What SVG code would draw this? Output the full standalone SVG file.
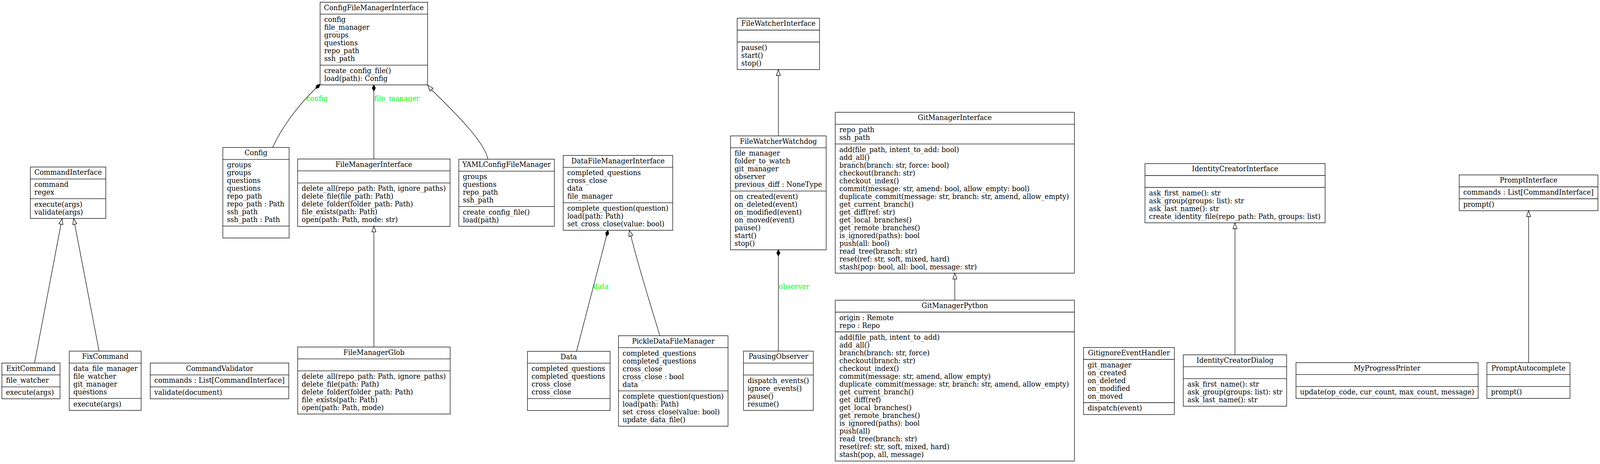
<svg xmlns="http://www.w3.org/2000/svg" width="4325" height="1187" viewBox="0 0 4325 1187">
<style>
.n rect{fill:#fff;stroke:#000;stroke-width:1.33}
.n line{stroke:#000;stroke-width:1.33}
text{font-family:"DejaVu Serif","Liberation Serif",serif;font-size:18.67px;fill:#000}
.h{text-anchor:middle}
.lbl{fill:#00ff00}
.e path,.e line{fill:none;stroke:#000;stroke-width:1.33}
.tri{fill:#fff;stroke:#000;stroke-width:1.33}
.dia{fill:#000;stroke:#000;stroke-width:1.33}
</style>
<rect x="0" y="0" width="4325" height="1187" fill="#fff"/>
<g id="diagram" transform="scale(0.94705 1)">

<g id="ConfigFileManagerInterface" class="n">
<rect x="865.3" y="5.7" width="290.5" height="211.5"/>
<line x1="865.3" y1="36.2" x2="1155.8" y2="36.2"/><line x1="865.3" y1="166.7" x2="1155.8" y2="166.7"/>
<text class="h" x="1010.5" y="25.7">ConfigFileManagerInterface</text>
<text x="876.3" y="56.5">config<tspan x="876.3" dy="20">file_manager</tspan><tspan x="876.3" dy="20">groups</tspan><tspan x="876.3" dy="20">questions</tspan><tspan x="876.3" dy="20">repo_path</tspan><tspan x="876.3" dy="20">ssh_path</tspan></text>
<text x="876.3" y="187">create_config_file()<tspan x="876.3" dy="20">load(path): Config</tspan></text>
</g>

<g id="Config" class="n">
<rect x="602.4" y="377.3" width="179.1" height="231.5"/>
<line x1="602.4" y1="407.8" x2="781.5" y2="407.8"/><line x1="602.4" y1="578.3" x2="781.5" y2="578.3"/>
<text class="h" x="692" y="397.3">Config</text>
<text x="613.4" y="428.1">groups<tspan x="613.4" dy="20">groups</tspan><tspan x="613.4" dy="20">questions</tspan><tspan x="613.4" dy="20">questions</tspan><tspan x="613.4" dy="20">repo_path</tspan><tspan x="613.4" dy="20">repo_path : Path</tspan><tspan x="613.4" dy="20">ssh_path</tspan><tspan x="613.4" dy="20">ssh_path : Path</tspan></text>
</g>

<g id="FileManagerInterface" class="n">
<rect x="804.5" y="406.7" width="412.1" height="172.5"/>
<line x1="804.5" y1="437.2" x2="1216.6" y2="437.2"/><line x1="804.5" y1="468.2" x2="1216.6" y2="468.2"/>
<text class="h" x="1010.5" y="426.7">FileManagerInterface</text>
<text x="815.5" y="488.5">delete_all(repo_path: Path, ignore_paths)<tspan x="815.5" dy="20">delete_file(file_path: Path)</tspan><tspan x="815.5" dy="20">delete_folder(folder_path: Path)</tspan><tspan x="815.5" dy="20">file_exists(path: Path)</tspan><tspan x="815.5" dy="20">open(path: Path, mode: str)</tspan></text>
</g>

<g id="YAMLConfigFileManager" class="n">
<rect x="1240.2" y="407.3" width="258.3" height="171.5"/>
<line x1="1240.2" y1="437.8" x2="1498.5" y2="437.8"/><line x1="1240.2" y1="528.3" x2="1498.5" y2="528.3"/>
<text class="h" x="1369.3" y="427.3">YAMLConfigFileManager</text>
<text x="1251.2" y="458.1">groups<tspan x="1251.2" dy="20">questions</tspan><tspan x="1251.2" dy="20">repo_path</tspan><tspan x="1251.2" dy="20">ssh_path</tspan></text>
<text x="1251.2" y="548.6">create_config_file()<tspan x="1251.2" dy="20">load(path)</tspan></text>
</g>

<g id="CommandInterface" class="n">
<rect x="82" y="427.3" width="204" height="131.5"/>
<line x1="82" y1="457.8" x2="286" y2="457.8"/><line x1="82" y1="508.3" x2="286" y2="508.3"/>
<text class="h" x="184" y="447.3">CommandInterface</text>
<text x="93" y="478.1">command<tspan x="93" dy="20">regex</tspan></text>
<text x="93" y="528.6">execute(args)<tspan x="93" dy="20">validate(args)</tspan></text>
</g>

<g id="ExitCommand" class="n">
<rect x="5.1" y="928.7" width="157.1" height="91.5"/>
<line x1="5.1" y1="959.2" x2="162.2" y2="959.2"/><line x1="5.1" y1="989.7" x2="162.2" y2="989.7"/>
<text class="h" x="83.6" y="948.7">ExitCommand</text>
<text x="16.1" y="979.5">file_watcher</text>
<text x="16.1" y="1010">execute(args)</text>
</g>

<g id="FixCommand" class="n">
<rect x="187.2" y="898.3" width="194.4" height="151.5"/>
<line x1="187.2" y1="928.8" x2="381.6" y2="928.8"/><line x1="187.2" y1="1019.3" x2="381.6" y2="1019.3"/>
<text class="h" x="284.4" y="918.3">FixCommand</text>
<text x="198.2" y="949.1">data_file_manager<tspan x="198.2" dy="20">file_watcher</tspan><tspan x="198.2" dy="20">git_manager</tspan><tspan x="198.2" dy="20">questions</tspan></text>
<text x="198.2" y="1039.6">execute(args)</text>
</g>

<g id="CommandValidator" class="n">
<rect x="406.1" y="928.7" width="374.5" height="91.5"/>
<line x1="406.1" y1="959.2" x2="780.6" y2="959.2"/><line x1="406.1" y1="989.7" x2="780.6" y2="989.7"/>
<text class="h" x="593.3" y="948.7">CommandValidator</text>
<text x="417.1" y="979.5">commands : List[CommandInterface]</text>
<text x="417.1" y="1010">validate(document)</text>
</g>

<g id="FileManagerGlob" class="n">
<rect x="804.7" y="887.7" width="412.2" height="171.5"/>
<line x1="804.7" y1="918.2" x2="1216.9" y2="918.2"/><line x1="804.7" y1="948.7" x2="1216.9" y2="948.7"/>
<text class="h" x="1010.8" y="907.7">FileManagerGlob</text>
<text x="815.7" y="969">delete_all(repo_path: Path, ignore_paths)<tspan x="815.7" dy="20">delete_file(path: Path)</tspan><tspan x="815.7" dy="20">delete_folder(folder_path: Path)</tspan><tspan x="815.7" dy="20">file_exists(path: Path)</tspan><tspan x="815.7" dy="20">open(path: Path, mode)</tspan></text>
</g>

<g id="DataFileManagerInterface" class="n">
<rect x="1522.4" y="397.6" width="296" height="191.5"/>
<line x1="1522.4" y1="428.1" x2="1818.4" y2="428.1"/><line x1="1522.4" y1="518.6" x2="1818.4" y2="518.6"/>
<text class="h" x="1670.4" y="417.6">DataFileManagerInterface</text>
<text x="1533.4" y="448.4">completed_questions<tspan x="1533.4" dy="20">cross_close</tspan><tspan x="1533.4" dy="20">data</tspan><tspan x="1533.4" dy="20">file_manager</tspan></text>
<text x="1533.4" y="538.9">complete_question(question)<tspan x="1533.4" dy="20">load(path: Path)</tspan><tspan x="1533.4" dy="20">set_cross_close(value: bool)</tspan></text>
</g>

<g id="Data" class="n">
<rect x="1425.8" y="898.7" width="223.3" height="151.5"/>
<line x1="1425.8" y1="929.2" x2="1649.1" y2="929.2"/><line x1="1425.8" y1="1019.7" x2="1649.1" y2="1019.7"/>
<text class="h" x="1537.4" y="918.7">Data</text>
<text x="1436.8" y="949.5">completed_questions<tspan x="1436.8" dy="20">completed_questions</tspan><tspan x="1436.8" dy="20">cross_close</tspan><tspan x="1436.8" dy="20">cross_close</tspan></text>
</g>

<g id="PickleDataFileManager" class="n">
<rect x="1671.9" y="858.8" width="296" height="231.5"/>
<line x1="1671.9" y1="889.3" x2="1967.9" y2="889.3"/><line x1="1671.9" y1="999.8" x2="1967.9" y2="999.8"/>
<text class="h" x="1819.9" y="878.8">PickleDataFileManager</text>
<text x="1682.9" y="909.6">completed_questions<tspan x="1682.9" dy="20">completed_questions</tspan><tspan x="1682.9" dy="20">cross_close</tspan><tspan x="1682.9" dy="20">cross_close : bool</tspan><tspan x="1682.9" dy="20">data</tspan></text>
<text x="1682.9" y="1020.1">complete_question(question)<tspan x="1682.9" dy="20">load(path: Path)</tspan><tspan x="1682.9" dy="20">set_cross_close(value: bool)</tspan><tspan x="1682.9" dy="20">update_data_file()</tspan></text>
</g>

<g id="FileWatcherInterface" class="n">
<rect x="1992.7" y="46.5" width="222.6" height="131.5"/>
<line x1="1992.7" y1="77" x2="2215.3" y2="77"/><line x1="1992.7" y1="107.5" x2="2215.3" y2="107.5"/>
<text class="h" x="2104" y="66.5">FileWatcherInterface</text>
<text x="2003.7" y="127.8">pause()<tspan x="2003.7" dy="20">start()</tspan><tspan x="2003.7" dy="20">stop()</tspan></text>
</g>

<g id="FileWatcherWatchdog" class="n">
<rect x="1974.7" y="347.6" width="258.6" height="291.5"/>
<line x1="1974.7" y1="378.1" x2="2233.3" y2="378.1"/><line x1="1974.7" y1="488.6" x2="2233.3" y2="488.6"/>
<text class="h" x="2104" y="367.6">FileWatcherWatchdog</text>
<text x="1985.7" y="398.4">file_manager<tspan x="1985.7" dy="20">folder_to_watch</tspan><tspan x="1985.7" dy="20">git_manager</tspan><tspan x="1985.7" dy="20">observer</tspan><tspan x="1985.7" dy="20">previous_diff : NoneType</tspan></text>
<text x="1985.7" y="508.9">on_created(event)<tspan x="1985.7" dy="20">on_deleted(event)</tspan><tspan x="1985.7" dy="20">on_modified(event)</tspan><tspan x="1985.7" dy="20">on_moved(event)</tspan><tspan x="1985.7" dy="20">pause()</tspan><tspan x="1985.7" dy="20">start()</tspan><tspan x="1985.7" dy="20">stop()</tspan></text>
</g>

<g id="GitManagerInterface" class="n">
<rect x="2257.8" y="287.3" width="646.5" height="411.5"/>
<line x1="2257.8" y1="317.8" x2="2904.3" y2="317.8"/><line x1="2257.8" y1="368.3" x2="2904.3" y2="368.3"/>
<text class="h" x="2581" y="307.3">GitManagerInterface</text>
<text x="2268.8" y="338.1">repo_path<tspan x="2268.8" dy="20">ssh_path</tspan></text>
<text x="2268.8" y="388.6">add(file_path, intent_to_add: bool)<tspan x="2268.8" dy="20">add_all()</tspan><tspan x="2268.8" dy="20">branch(branch: str, force: bool)</tspan><tspan x="2268.8" dy="20">checkout(branch: str)</tspan><tspan x="2268.8" dy="20">checkout_index()</tspan><tspan x="2268.8" dy="20">commit(message: str, amend: bool, allow_empty: bool)</tspan><tspan x="2268.8" dy="20">duplicate_commit(message: str, branch: str, amend, allow_empty)</tspan><tspan x="2268.8" dy="20">get_current_branch()</tspan><tspan x="2268.8" dy="20">get_diff(ref: str)</tspan><tspan x="2268.8" dy="20">get_local_branches()</tspan><tspan x="2268.8" dy="20">get_remote_branches()</tspan><tspan x="2268.8" dy="20">is_ignored(paths): bool</tspan><tspan x="2268.8" dy="20">push(all: bool)</tspan><tspan x="2268.8" dy="20">read_tree(branch: str)</tspan><tspan x="2268.8" dy="20">reset(ref: str, soft, mixed, hard)</tspan><tspan x="2268.8" dy="20">stash(pop: bool, all: bool, message: str)</tspan></text>
</g>

<g id="GitManagerPython" class="n">
<rect x="2257.8" y="768" width="646.5" height="411.5"/>
<line x1="2257.8" y1="798.5" x2="2904.3" y2="798.5"/><line x1="2257.8" y1="849" x2="2904.3" y2="849"/>
<text class="h" x="2581" y="788">GitManagerPython</text>
<text x="2268.8" y="818.8">origin : Remote<tspan x="2268.8" dy="20">repo : Repo</tspan></text>
<text x="2268.8" y="869.3">add(file_path, intent_to_add)<tspan x="2268.8" dy="20">add_all()</tspan><tspan x="2268.8" dy="20">branch(branch: str, force)</tspan><tspan x="2268.8" dy="20">checkout(branch: str)</tspan><tspan x="2268.8" dy="20">checkout_index()</tspan><tspan x="2268.8" dy="20">commit(message: str, amend, allow_empty)</tspan><tspan x="2268.8" dy="20">duplicate_commit(message: str, branch: str, amend, allow_empty)</tspan><tspan x="2268.8" dy="20">get_current_branch()</tspan><tspan x="2268.8" dy="20">get_diff(ref)</tspan><tspan x="2268.8" dy="20">get_local_branches()</tspan><tspan x="2268.8" dy="20">get_remote_branches()</tspan><tspan x="2268.8" dy="20">is_ignored(paths): bool</tspan><tspan x="2268.8" dy="20">push(all)</tspan><tspan x="2268.8" dy="20">read_tree(branch: str)</tspan><tspan x="2268.8" dy="20">reset(ref: str, soft, mixed, hard)</tspan><tspan x="2268.8" dy="20">stash(pop, all, message)</tspan></text>
</g>

<g id="PausingObserver" class="n">
<rect x="2009.7" y="898.3" width="188.8" height="151.5"/>
<line x1="2009.7" y1="928.8" x2="2198.5" y2="928.8"/><line x1="2009.7" y1="959.3" x2="2198.5" y2="959.3"/>
<text class="h" x="2104.1" y="918.3">PausingObserver</text>
<text x="2020.7" y="979.6">dispatch_events()<tspan x="2020.7" dy="20">ignore_events()</tspan><tspan x="2020.7" dy="20">pause()</tspan><tspan x="2020.7" dy="20">resume()</tspan></text>
</g>

<g id="GitignoreEventHandler" class="n">
<rect x="2928.9" y="889" width="245.6" height="171.5"/>
<line x1="2928.9" y1="919.5" x2="3174.5" y2="919.5"/><line x1="2928.9" y1="1030" x2="3174.5" y2="1030"/>
<text class="h" x="3051.7" y="909">GitignoreEventHandler</text>
<text x="2939.9" y="939.8">git_manager<tspan x="2939.9" dy="20">on_created</tspan><tspan x="2939.9" dy="20">on_deleted</tspan><tspan x="2939.9" dy="20">on_modified</tspan><tspan x="2939.9" dy="20">on_moved</tspan></text>
<text x="2939.9" y="1050.3">dispatch(event)</text>
</g>

<g id="IdentityCreatorInterface" class="n">
<rect x="3095" y="418.5" width="487" height="151.5"/>
<line x1="3095" y1="449" x2="3582" y2="449"/><line x1="3095" y1="479.5" x2="3582" y2="479.5"/>
<text class="h" x="3338.5" y="438.5">IdentityCreatorInterface</text>
<text x="3106" y="499.8">ask_first_name(): str<tspan x="3106" dy="20">ask_group(groups: list): str</tspan><tspan x="3106" dy="20">ask_last_name(): str</tspan><tspan x="3106" dy="20">create_identity_file(repo_path: Path, groups: list)</tspan></text>
</g>

<g id="IdentityCreatorDialog" class="n">
<rect x="3198.6" y="907.7" width="279.4" height="131.5"/>
<line x1="3198.6" y1="938.2" x2="3478" y2="938.2"/><line x1="3198.6" y1="968.7" x2="3478" y2="968.7"/>
<text class="h" x="3338.3" y="927.7">IdentityCreatorDialog</text>
<text x="3209.6" y="989">ask_first_name(): str<tspan x="3209.6" dy="20">ask_group(groups: list): str</tspan><tspan x="3209.6" dy="20">ask_last_name(): str</tspan></text>
</g>

<g id="MyProgressPrinter" class="n">
<rect x="3503.2" y="927.7" width="492.4" height="91.5"/>
<line x1="3503.2" y1="958.2" x2="3995.6" y2="958.2"/><line x1="3503.2" y1="988.7" x2="3995.6" y2="988.7"/>
<text class="h" x="3749.4" y="947.7">MyProgressPrinter</text>
<text x="3514.2" y="1009">update(op_code, cur_count, max_count, message)</text>
</g>

<g id="PromptInterface" class="n">
<rect x="3944.4" y="447.5" width="375" height="91.5"/>
<line x1="3944.4" y1="478" x2="4319.4" y2="478"/><line x1="3944.4" y1="508.5" x2="4319.4" y2="508.5"/>
<text class="h" x="4131.9" y="467.5">PromptInterface</text>
<text x="3955.4" y="498.3">commands : List[CommandInterface]</text>
<text x="3955.4" y="528.8">prompt()</text>
</g>

<g id="PromptAutocomplete" class="n">
<rect x="4019.3" y="927.7" width="224.7" height="91.5"/>
<line x1="4019.3" y1="958.2" x2="4244" y2="958.2"/><line x1="4019.3" y1="988.7" x2="4244" y2="988.7"/>
<text class="h" x="4131.6" y="947.7">PromptAutocomplete</text>
<text x="4030.3" y="1009">prompt()</text>
</g>

<g id="connectors" class="e">
<path d="M736.7,377.3 C760,330 800,275 853,226.5"/>
<polygon class="dia" points="865,215.5 862,224.3 853,226.5 856,217.7"/>
<text class="lbl" x="828" y="258">config</text>

<line x1="1010.5" y1="406.7" x2="1010.5" y2="233.2"/>
<polygon class="dia" points="1010.5,217.2 1015,225.2 1010.5,233.2 1006,225.2"/>
<text class="lbl" x="1012" y="258">file_manager</text>

<path d="M1318.8,407.3 C1310,360 1215,275 1166.5,229.5"/>
<polygon class="tri" points="1155.8,217.2 1170.6,225.9 1162.3,233.1"/>

<line x1="1010.7" y1="887.7" x2="1010.7" y2="593.2"/>
<polygon class="tri" points="1010.7,578.2 1016.2,593.2 1005.2,593.2"/>

<line x1="93.4" y1="928.7" x2="164.9" y2="573.5"/>
<polygon class="tri" points="167.9,558.8 170.3,574.6 159.5,572.4"/>

<line x1="267.9" y1="898.3" x2="202" y2="573.5"/>
<polygon class="tri" points="199,558.8 207.4,572.4 196.6,574.6"/>

<line x1="1558.5" y1="898.7" x2="1639.2" y2="604.5"/>
<polygon class="dia" points="1643.5,589.1 1645.7,598 1639.2,604.5 1637,595.6"/>
<text class="lbl" x="1604" y="739">data</text>

<path d="M1783.7,858.8 C1765,800 1725,680 1705.4,603.4"/>
<polygon class="tri" points="1701,589.1 1710.7,601.8 1700.1,605"/>

<line x1="2104" y1="347.6" x2="2104" y2="193"/>
<polygon class="tri" points="2104,178 2109.5,193 2098.5,193"/>

<line x1="2104" y1="898.3" x2="2104" y2="655.1"/>
<polygon class="dia" points="2104,639.1 2108.5,647.1 2104,655.1 2099.5,647.1"/>
<text class="lbl" x="2105" y="739">observer</text>

<line x1="2581" y1="768" x2="2581" y2="713.8"/>
<polygon class="tri" points="2581,698.8 2586.5,713.8 2575.5,713.8"/>

<line x1="3338.3" y1="907.7" x2="3338.3" y2="585"/>
<polygon class="tri" points="3338.3,570 3343.8,585 3332.8,585"/>

<line x1="4132" y1="927.7" x2="4132" y2="554"/>
<polygon class="tri" points="4132,539 4137.5,554 4126.5,554"/>
</g>
</g>
</svg>
